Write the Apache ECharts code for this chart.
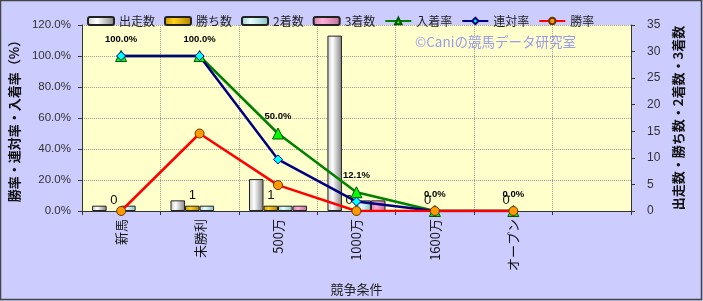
<!DOCTYPE html>
<html><head><meta charset="utf-8">
<script src="https://cdn.jsdelivr.net/npm/echarts@6/dist/echarts.min.js"></script>
<style>html,body{margin:0;padding:0;background:#ccccff;}#c{width:703px;height:301px;}</style>
</head><body><div id="c"></div>
<script>
const categories = ['新馬','未勝利','500万','1000万','1600万','オープン',''];
const starts = [1,2,6,33,0,0,null];
const wins = [0,1,1,0,0,0,null];
const seconds = [1,1,1,2,0,0,null];
const thirds = [0,0,1,2,0,0,null];
const placeRate = [100,100,50,12.1,0,0,null];
const quinellaRate = [100,100,33.3,6.1,0,0,null];
const winRate = [0,50,16.7,0,0,0,null];
const leftTicks = {min:0,max:120,interval:20};
const rightTicks = {min:0,max:35,interval:5};

const FONT = '"Noto Sans CJK JP", "Liberation Sans", sans-serif';
function grad(c0,c1,c2){
  return new echarts.graphic.LinearGradient(0,0,1,0,[
    {offset:0,color:c0},{offset:0.35,color:c1},{offset:1,color:c2}]);
}
// zero-height bars are not drawn (label kept)
function barData(arr){
  return arr.map(v => v === 0 ? {value:0,itemStyle:{color:'transparent',borderColor:'transparent'}} : v);
}
const chart = echarts.init(document.getElementById('c'));
const barBase = {type:'bar', yAxisIndex:1, barGap:'0%', barCategoryGap:'26%'};
chart.setOption({
  backgroundColor:'#ccccff',
  textStyle:{fontFamily:FONT},
  animation:false,
  grid:{left:77,right:72,top:25,bottom:88,show:true,backgroundColor:'#ffffcc',borderWidth:0},
  legend:{left:82,top:10,itemWidth:26,itemHeight:8,itemGap:9,
    textStyle:{fontSize:12,color:'#222',fontFamily:FONT},
    data:['出走数','勝ち数','2着数','3着数','入着率','連対率','勝率']},
  graphic:[
    {type:'text',left:415,top:35,style:{text:'©Caniの競馬データ研究室',fill:'#9a9aee',fontSize:13.5,fontFamily:FONT}},
    {type:'rect',shape:{x:0.5,y:0.5,width:701,height:299},style:{fill:'none',stroke:'#444',lineWidth:1.5},z:100}
  ],
  xAxis:{type:'category',data:categories,boundaryGap:true,
    name:'競争条件',nameLocation:'middle',nameGap:72,
    nameTextStyle:{fontSize:13,color:'#222',fontFamily:FONT},
    axisLine:{lineStyle:{color:'#333'}},
    axisTick:{show:true,length:4,lineStyle:{color:'#333'}},
    axisLabel:{rotate:90,fontSize:13,color:'#111',margin:8,fontFamily:FONT},
    splitLine:{show:true,lineStyle:{type:'dotted',color:'#999'}}},
  yAxis:[
    {type:'value',min:leftTicks.min,max:leftTicks.max,interval:leftTicks.interval,position:'left',
     name:'勝率・連対率・入着率（%）',nameLocation:'middle',nameGap:60,nameRotate:90,
     nameTextStyle:{fontSize:13,fontWeight:'bold',color:'#111',fontFamily:FONT},
     axisLine:{show:true,lineStyle:{color:'#333'}},
     axisTick:{show:true,length:4,lineStyle:{color:'#333'}},
     axisLabel:{formatter:v=>v.toFixed(1)+'%',fontSize:11.5,color:'#333',margin:11,fontFamily:'"Liberation Sans", sans-serif'},
     splitLine:{show:true,lineStyle:{type:'dotted',color:'#999'}}},
    {type:'value',min:rightTicks.min,max:rightTicks.max,interval:rightTicks.interval,position:'right',
     name:'出走数・勝ち数・2着数・3着数',nameLocation:'middle',nameGap:40,nameRotate:90,
     nameTextStyle:{fontSize:13,fontWeight:'bold',color:'#111',fontFamily:FONT},
     axisLine:{show:true,lineStyle:{color:'#333'}},
     axisTick:{show:true,length:4,lineStyle:{color:'#333'}},
     axisLabel:{fontSize:12,color:'#333',margin:16,fontFamily:'"Liberation Sans", sans-serif'},
     splitLine:{show:false}}
  ],
  series:[
    Object.assign({},barBase,{name:'出走数',data:barData(starts),
      itemStyle:{color:grad('#c8c8c8','#ffffff','#808080'),borderColor:'#222',borderWidth:1}}),
    Object.assign({},barBase,{name:'勝ち数',data:barData(wins),
      itemStyle:{color:grad('#c89600','#ffd21e','#b08000'),borderColor:'#222',borderWidth:1},
      label:{show:true,position:'top',distance:4,fontSize:13,color:'#111',fontFamily:'"Liberation Sans", sans-serif'}}),
    Object.assign({},barBase,{name:'2着数',data:barData(seconds),
      itemStyle:{color:grad('#9ccccc','#e6ffff','#88c0c0'),borderColor:'#222',borderWidth:1}}),
    Object.assign({},barBase,{name:'3着数',data:barData(thirds),
      itemStyle:{color:grad('#d080a8','#ffb0d8','#c07098'),borderColor:'#222',borderWidth:1}}),
    {name:'入着率',type:'line',yAxisIndex:0,data:placeRate,symbol:'triangle',symbolSize:11,
     lineStyle:{color:'#008000',width:2.5},
     itemStyle:{color:'#00ff00',borderColor:'#005500',borderWidth:1},
     label:{show:true,position:'top',distance:6,fontSize:9.5,fontWeight:'bold',color:'#000',
       fontFamily:'"Liberation Sans", sans-serif',formatter:p=>p.value.toFixed(1)+'%'}},
    {name:'連対率',type:'line',yAxisIndex:0,data:quinellaRate,symbol:'diamond',symbolSize:9,
     lineStyle:{color:'#000080',width:2.5},
     itemStyle:{color:'#00ffff',borderColor:'#000080',borderWidth:1}},
    {name:'勝率',type:'line',yAxisIndex:0,data:winRate,symbol:'circle',symbolSize:9,
     lineStyle:{color:'#ff0000',width:2.5},
     itemStyle:{color:'#ff9900',borderColor:'#663300',borderWidth:1}}
  ]
});
</script></body></html>
